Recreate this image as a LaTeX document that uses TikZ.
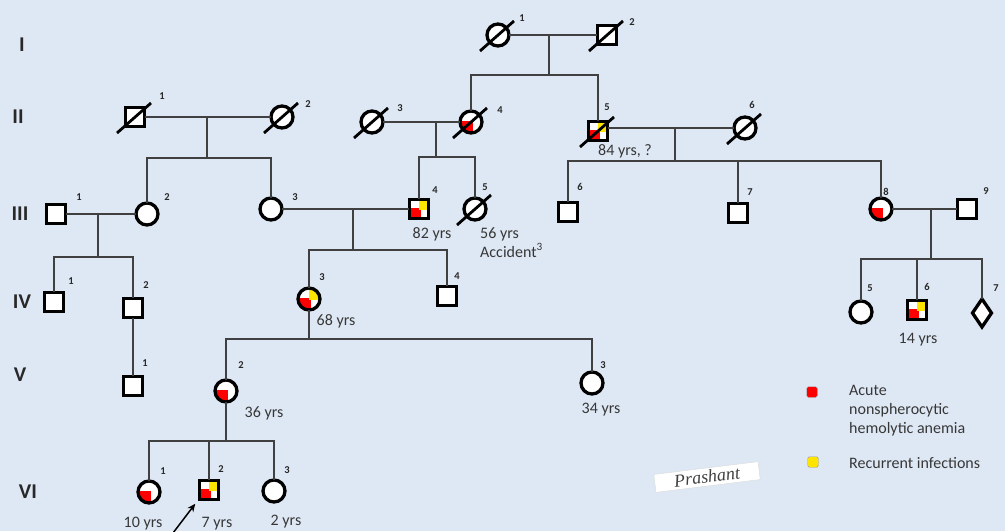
\documentclass[tikz,border=0pt]{standalone}
\usepackage{fontspec}
\setmainfont{Carlito}
\newfontfamily\sigfont{Liberation Serif}
\usetikzlibrary{shapes.geometric,arrows.meta}
\definecolor{bg}{RGB}{222,232,244}
\definecolor{connc}{RGB}{64,64,64}
\definecolor{affred}{RGB}{255,0,0}
\definecolor{affyel}{RGB}{255,228,0}
\definecolor{agec}{RGB}{55,55,55}
\definecolor{genc}{RGB}{40,40,40}
\tikzset{
 conn/.style={draw=connc, line width=1.6pt},
 sym/.style={draw=black, line width=3.3pt, fill=white, inner sep=0pt, outer sep=0pt},
 male/.style={sym, rectangle, minimum size=19.5pt},
 female/.style={sym, circle, minimum size=22pt},
 unknown/.style={sym, diamond, minimum width=19pt, minimum height=28pt},
 anemia/.style={path picture={\fill[affred] (path picture bounding box.south west) rectangle ([shift={(1.5,-1.5)}]path picture bounding box.center);}},
 anemiainf/.style={path picture={\fill[affred] (path picture bounding box.south west) rectangle ([shift={(1.5,-1.5)}]path picture bounding box.center); \fill[affyel] ([shift={(-0.5,0.5)}]path picture bounding box.center) rectangle (path picture bounding box.north east);}},
 slash/.style={draw=black, line width=2.8pt},
 num/.style={font=\fontsize{10.5}{10.5}\selectfont\bfseries, text=genc, inner sep=0pt},
 age/.style={font=\fontsize{16}{16}\selectfont, text=agec, inner sep=0pt, anchor=base},
 gen/.style={font=\fontsize{21}{21}\selectfont\bfseries, text=genc, inner sep=0pt},
 legsq/.style={draw=black!40, line width=0.4pt, rounded corners=1.5pt, minimum size=10.5pt, inner sep=0pt},
 legtxt/.style={font=\fontsize{16}{16}\selectfont, text=agec, inner sep=0pt, anchor=base west},
 sig/.style={fill=white, draw=black!15, rotate=7, minimum width=105pt, minimum height=18pt, inner sep=0pt, font=\sigfont\itshape\fontsize{18}{18}\selectfont, text=black!75},
 probarrow/.style={-{Stealth[length=8pt,width=7pt]}, line width=1.5pt, draw=black}
}
\begin{document}
\begin{tikzpicture}[x=1pt,y=-1pt]
\fill[bg] (0,0) rectangle (1005,531);
\useasboundingbox (0,0) rectangle (1005,531);

% generation labels
\node[gen] (gI) at (22,45) {I};
\node[gen] (gII) at (18,117) {II};
\node[gen] (gIII) at (20,214) {III};
\node[gen] (gIV) at (22,302) {IV};
\node[gen] (gV) at (20,375) {V};
\node[gen] (gVI) at (28,492) {VI};

% ---------- individuals ----------
\node[female] (I1) at (498,35) {};
\node[male] (I2) at (607,35) {};

\node[male] (II1) at (135,117) {};
\node[female] (II2) at (282,117) {};
\node[female] (II3) at (372,122) {};
\node[female, anemia] (II4) at (471,122) {};
\node[male, anemiainf] (II5) at (598,131) {};
\node[female] (II6) at (745,128) {};

\node[male] (III1) at (56,214) {};
\node[female] (III2) at (147,214) {};
\node[female] (III3) at (271,209) {};
\node[male, anemiainf] (III4) at (419,209) {};
\node[female] (III5) at (475,209) {};
\node[male] (III6) at (568,212) {};
\node[male] (III7) at (738,213) {};
\node[female, anemia] (III8) at (881,209) {};
\node[male] (III9) at (967,209) {};

\node[male] (IV1) at (54,302) {};
\node[male] (IV2) at (133,308) {};
\node[female, anemiainf] (IV3) at (309,299) {};
\node[male] (IV4) at (447,296) {};
\node[female] (IV5) at (861,312) {};
\node[male, anemiainf] (IV6) at (917,310) {};
\node[unknown] (IV7) at (982,313) {};

\node[male] (V1) at (133,386) {};
\node[female, anemia] (V2) at (226,391) {};
\node[female] (V3) at (592,383) {};

\node[female, anemia] (VI1) at (149,492) {};
\node[male, anemiainf] (VI2) at (209,490) {};
\node[female] (VI3) at (274,491) {};

% ---------- junction coordinates ----------
\coordinate (mI) at (549,35);      \coordinate (sbI) at (549,75);
\coordinate (mII12) at (207,117);  \coordinate (sbII12) at (207,158);
\coordinate (mII34) at (436,122);  \coordinate (sbII34) at (436,157);
\coordinate (mII56) at (675,128);  \coordinate (sbII56) at (675,161);
\coordinate (mIII12) at (98,214);  \coordinate (sbIII12) at (98,257);
\coordinate (mIII34) at (353,209); \coordinate (sbIII34) at (353,250);
\coordinate (mIII89) at (931,209); \coordinate (sbIII89) at (931,259);
\coordinate (sbIV3) at (309,339);
\coordinate (sbV2) at (226,441);

% ---------- connectors ----------
\draw[conn] (I1) -- (I2);
\draw[conn] (mI) -- (sbI);
\draw[conn] (II4.north) -- (II4 |- sbI) -- (II5 |- sbI) -- (II5.north);
\draw[conn] (II1) -- (II2);
\draw[conn] (mII12) -- (sbII12);
\draw[conn] (III2.north) -- (III2 |- sbII12) -- (III3 |- sbII12) -- (III3.north);
\draw[conn] (II3) -- (II4);
\draw[conn] (mII34) -- (sbII34);
\draw[conn] (III4.north) -- (III4 |- sbII34) -- (III5 |- sbII34) -- (III5.north);
\draw[conn] (II5.east |- mII56) -- (II6);
\draw[conn] (mII56) -- (sbII56);
\draw[conn] (III6.north) -- (III6 |- sbII56) -- (III8 |- sbII56) -- (III8.north);
\draw[conn] (III7.north) -- (III7 |- sbII56);
\draw[conn] (III1) -- (III2);
\draw[conn] (mIII12) -- (sbIII12);
\draw[conn] (IV1.north) -- (IV1 |- sbIII12) -- (IV2 |- sbIII12) -- (IV2.north);
\draw[conn] (III3) -- (III4);
\draw[conn] (mIII34) -- (sbIII34);
\draw[conn] (IV3.north) -- (IV3 |- sbIII34) -- (IV4 |- sbIII34) -- (IV4.north);
\draw[conn] (III8) -- (III9);
\draw[conn] (mIII89) -- (sbIII89);
\draw[conn] (IV5.north) -- (IV5 |- sbIII89) -- (IV7 |- sbIII89) -- (IV7.north);
\draw[conn] (IV6.north) -- (IV6 |- sbIII89);
\draw[conn] (IV2.south) -- (V1.north);
\draw[conn] (IV3.south) -- (sbIV3);
\draw[conn] (V2.north) -- (V2 |- sbIV3) -- (V3 |- sbIV3) -- (V3.north);
\draw[conn] (V2.south) -- (sbV2);
\draw[conn] (VI1.north) -- (VI1 |- sbV2) -- (VI3 |- sbV2) -- (VI3.north);
\draw[conn] (VI2.north) -- (VI2 |- sbV2);

% deceased marks
\foreach \n in {I1,I2,II1,II2,II3,II4,II5,II6,III5}
  \draw[slash] ([shift={(-18,16)}]\n.center) -- ([shift={(16,-14)}]\n.center);

% ---------- numbers ----------
\node[num] (nI1) at (522,18) {1};
\node[num] (nI2) at (632,22) {2};
\node[num] (nII1) at (162,96) {1};
\node[num] (nII2) at (308,104) {2};
\node[num] (nII3) at (400,108) {3};
\node[num] (nII4) at (500,110) {4};
\node[num] (nII5) at (607,107) {5};
\node[num] (nII6) at (752,105) {6};
\node[num] (nIII1) at (79,197) {1};
\node[num] (nIII2) at (167,197) {2};
\node[num] (nIII3) at (295,197) {3};
\node[num] (nIII4) at (435,190) {4};
\node[num] (nIII5) at (485,187) {5};
\node[num] (nIII6) at (580,187) {6};
\node[num] (nIII7) at (750,192) {7};
\node[num] (nIII8) at (886,192) {8};
\node[num] (nIII9) at (986,191) {9};
\node[num] (nIV1) at (71,281) {1};
\node[num] (nIV2) at (146,285) {2};
\node[num] (nIV3) at (322,277) {3};
\node[num] (nIV4) at (457,276) {4};
\node[num] (nIV5) at (870,288) {5};
\node[num] (nIV6) at (927,287) {6};
\node[num] (nIV7) at (996,288) {7};
\node[num] (nV1) at (145,363) {1};
\node[num] (nV2) at (241,365) {2};
\node[num] (nV3) at (603,365) {3};
\node[num] (nVI1) at (163,471) {1};
\node[num] (nVI2) at (221,469) {2};
\node[num] (nVI3) at (287,470) {3};

% ---------- ages ----------
\node[age] (aII5) at (625,155) {84 yrs, ?};
\node[age] (aIII4) at (432,238) {82 yrs};
\node[age, anchor=base west] (aIII5) at (480,238) {56 yrs};
\node[age, anchor=base west] (cIII5) at (480,257) {Accident\textsuperscript{3}};
\node[age] (aIV3) at (336,325) {68 yrs};
\node[age] (aIV6) at (918,343) {14 yrs};
\node[age] (aV2) at (264,417) {36 yrs};
\node[age] (aV3) at (601,413) {34 yrs};
\node[age] (aVI1) at (143,527) {10 yrs};
\node[age] (aVI2) at (217,527) {7 yrs};
\node[age] (aVI3) at (286,525) {2 yrs};

% proband arrow
\coordinate (arrowtail) at (173,533);
\draw[probarrow] (arrowtail) -- ([shift={(-4,4)}]VI2.south west);

% ---------- legend ----------
\node[legsq, fill=affred] (lgred) at (812,392) {};
\node[legtxt] (lg1) at (849,395) {Acute};
\node[legtxt] (lg2) at (849,414) {nonspherocytic};
\node[legtxt] (lg3) at (849,433) {hemolytic anemia};
\node[legsq, fill=affyel] (lgyel) at (813,462) {};
\node[legtxt] (lg4) at (849,468) {Recurrent infections};

% signature
\node[sig] (sign) at (707,477) {Prashant};
\end{tikzpicture}
\end{document}
